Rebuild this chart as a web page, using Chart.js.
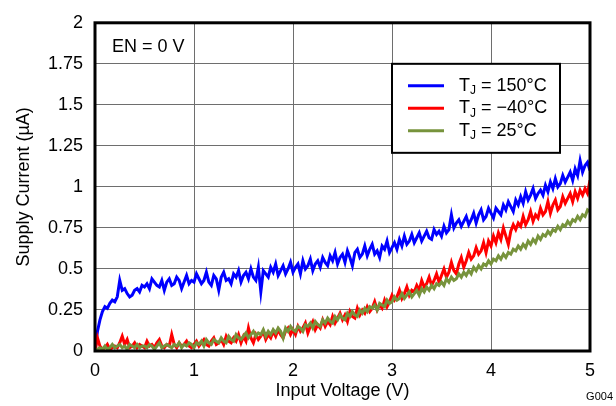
<!DOCTYPE html>
<html>
<head>
<meta charset="utf-8">
<script src="https://cdn.jsdelivr.net/npm/chart.js@4.4.0/dist/chart.umd.min.js"></script>
<style>
    html, body { margin: 0; padding: 0; background: #ffffff; }
</style>
</head>
<body>
<canvas id="myChart" width="616" height="406"></canvas>
<script>
// samples are taken every 25 mV from 0 V to 5 V
const voltageStep = 0.025

const xTicks = [0, 1, 2, 3, 4, 5]
const yTicks = [0, 0.25, 0.5, 0.75, 1, 1.25, 1.5, 1.75, 2]

const seriesNames = ['150°C', '\u221240°C', '25°C']

// supply current (uA), TJ = 150 C
const current150 =
[
    0.00, 0.12, 0.19, 0.24, 0.27, 0.26, 0.29, 0.31, 0.30, 0.33,
    0.43, 0.37, 0.38, 0.35, 0.33, 0.34, 0.37, 0.38, 0.36, 0.40,
    0.39, 0.41, 0.38, 0.44, 0.42, 0.40, 0.39, 0.43, 0.37, 0.42,
    0.44, 0.40, 0.41, 0.45, 0.43, 0.38, 0.42, 0.46, 0.41, 0.43,
    0.42, 0.47, 0.44, 0.41, 0.43, 0.48, 0.42, 0.40, 0.46, 0.44,
    0.37, 0.45, 0.48, 0.43, 0.44, 0.41, 0.47, 0.45, 0.49, 0.42,
    0.46, 0.48, 0.44, 0.50, 0.45, 0.43, 0.51, 0.36, 0.49, 0.47,
    0.45, 0.51, 0.48, 0.53, 0.46, 0.49, 0.52, 0.47, 0.50, 0.54,
    0.48, 0.51, 0.53, 0.47, 0.55, 0.50, 0.52, 0.56, 0.49, 0.53,
    0.55, 0.51, 0.57, 0.54, 0.52, 0.58, 0.55, 0.60, 0.53, 0.57,
    0.59, 0.54, 0.61, 0.57, 0.52, 0.60, 0.62, 0.57, 0.59, 0.64,
    0.58, 0.62, 0.65, 0.59, 0.61, 0.57, 0.64, 0.62, 0.67, 0.60,
    0.63, 0.66, 0.62, 0.68, 0.64, 0.70, 0.65, 0.67, 0.71, 0.66,
    0.69, 0.72, 0.67, 0.70, 0.73, 0.69, 0.68, 0.74, 0.71, 0.73,
    0.70, 0.76, 0.72, 0.74, 0.83, 0.75, 0.78, 0.80, 0.76, 0.79,
    0.82, 0.77, 0.80, 0.84, 0.78, 0.83, 0.86, 0.80, 0.82, 0.87,
    0.84, 0.81, 0.87, 0.85, 0.83, 0.89, 0.86, 0.91, 0.88, 0.85,
    0.92, 0.89, 0.94, 0.90, 0.97, 0.92, 0.95, 0.99, 0.93, 0.96,
    0.98, 0.95, 1.01, 0.97, 1.03, 0.99, 1.05, 1.00, 1.02, 1.07,
    1.03, 1.06, 1.09, 1.04, 1.11, 1.07, 1.16, 1.09, 1.13, 1.15,
    1.10
]

// supply current (uA), TJ = -40 C
const currentMinus40 =
[
    0.00, 0.08, 0.03, 0.01, 0.02, 0.04, 0.01, 0.02, 0.03, 0.02,
    0.05, 0.09, 0.04, 0.07, 0.02, 0.03, 0.05, 0.02, 0.04, 0.03,
    0.02, 0.06, 0.03, 0.04, 0.02, 0.05, 0.07, 0.03, 0.02, 0.04,
    0.03, 0.10, 0.04, 0.02, 0.05, 0.03, 0.04, 0.06, 0.03, 0.02,
    0.04, 0.06, 0.03, 0.05, 0.07, 0.04, 0.03, 0.06, 0.08, 0.04,
    0.05, 0.07, 0.04, 0.09, 0.06, 0.05, 0.08, 0.06, 0.10, 0.05,
    0.09, 0.06, 0.14, 0.08, 0.05, 0.10, 0.07, 0.09, 0.12, 0.07,
    0.10, 0.08, 0.12, 0.09, 0.13, 0.10, 0.08, 0.12, 0.14, 0.10,
    0.13, 0.10, 0.15, 0.12, 0.14, 0.17, 0.11, 0.15, 0.18, 0.13,
    0.16, 0.14, 0.19, 0.15, 0.18, 0.16, 0.21, 0.17, 0.20, 0.23,
    0.19, 0.22, 0.18, 0.24, 0.21, 0.20, 0.26, 0.22, 0.25, 0.23,
    0.27, 0.24, 0.26, 0.30, 0.25, 0.28, 0.26, 0.31, 0.27, 0.30,
    0.34, 0.31, 0.33, 0.37, 0.32, 0.35, 0.39, 0.34, 0.37, 0.36,
    0.40, 0.37, 0.43, 0.39, 0.41, 0.45, 0.40, 0.43, 0.47, 0.42,
    0.46, 0.50, 0.45, 0.48, 0.54, 0.49, 0.47, 0.53, 0.57, 0.51,
    0.55, 0.60, 0.56, 0.58, 0.63, 0.59, 0.61, 0.66, 0.60, 0.67,
    0.64, 0.70, 0.66, 0.72, 0.68, 0.75, 0.70, 0.65, 0.73, 0.77,
    0.74, 0.78, 0.76, 0.82, 0.77, 0.80, 0.85, 0.79, 0.83, 0.81,
    0.87, 0.83, 0.85, 0.91, 0.84, 0.89, 0.92, 0.86, 0.88, 0.94,
    0.90, 0.93, 0.96, 0.91, 0.97, 0.93, 0.98, 0.95, 0.99, 0.96,
    1.04
]

// supply current (uA), TJ = 25 C
const current25 =
[
    0.00, 0.01, 0.02, 0.01, 0.03, 0.01, 0.02, 0.04, 0.02, 0.03,
    0.04, 0.02, 0.03, 0.01, 0.04, 0.03, 0.02, 0.04, 0.02, 0.03,
    0.03, 0.02, 0.04, 0.03, 0.01, 0.03, 0.05, 0.02, 0.03, 0.04,
    0.03, 0.02, 0.04, 0.03, 0.05, 0.02, 0.04, 0.03, 0.05, 0.04,
    0.02, 0.05, 0.04, 0.06, 0.03, 0.07, 0.05, 0.04, 0.07, 0.06,
    0.05, 0.08, 0.06, 0.05, 0.09, 0.07, 0.06, 0.10, 0.08, 0.07,
    0.09, 0.11, 0.08, 0.10, 0.12, 0.09, 0.11, 0.10, 0.13, 0.09,
    0.12, 0.10, 0.13, 0.11, 0.14, 0.12, 0.08, 0.14, 0.12, 0.15,
    0.13, 0.12, 0.15, 0.14, 0.12, 0.16, 0.15, 0.17, 0.14, 0.18,
    0.16, 0.15, 0.19, 0.17, 0.20, 0.18, 0.17, 0.21, 0.19, 0.22,
    0.20, 0.19, 0.23, 0.21, 0.24, 0.22, 0.21, 0.25, 0.23, 0.26,
    0.24, 0.27, 0.26, 0.28, 0.25, 0.29, 0.28, 0.27, 0.31, 0.29,
    0.30, 0.33, 0.31, 0.32, 0.35, 0.32, 0.34, 0.36, 0.33, 0.35,
    0.37, 0.34, 0.38, 0.36, 0.39, 0.37, 0.40, 0.38, 0.41, 0.40,
    0.42, 0.40, 0.44, 0.42, 0.45, 0.43, 0.44, 0.47, 0.45, 0.48,
    0.46, 0.49, 0.47, 0.51, 0.49, 0.52, 0.50, 0.53, 0.52, 0.55,
    0.53, 0.56, 0.55, 0.58, 0.56, 0.59, 0.57, 0.60, 0.59, 0.62,
    0.61, 0.64, 0.62, 0.65, 0.63, 0.67, 0.65, 0.68, 0.66, 0.70,
    0.68, 0.71, 0.70, 0.73, 0.71, 0.74, 0.73, 0.76, 0.74, 0.77,
    0.76, 0.79, 0.77, 0.80, 0.79, 0.82, 0.80, 0.83, 0.82, 0.86,
    0.85
]

const toPoints = (values) =>
{
    return values.map((y, i) =>
    {
        return { x: i * voltageStep, y: y }
    });
}

const fontName = '"Liberation Sans", Arial, sans-serif'

// the white note box, the legend box and the heavy plot frame
const framePlugin =
{
    id: 'frame',
    beforeDatasetsDraw: (chart) =>
    {
        const { ctx, chartArea, scales } = chart
        const noteRight = scales.x.getPixelForValue(1) - 1
        const noteBottom = scales.y.getPixelForValue(1.75) - 1

        ctx.save()
        ctx.fillStyle = '#ffffff'
        ctx.fillRect(chartArea.left, chartArea.top, noteRight - chartArea.left, noteBottom - chartArea.top)
        ctx.fillStyle = '#000000'
        ctx.font = '18px ' + fontName
        ctx.textBaseline = 'middle'
        ctx.fillText('EN = 0 V', chartArea.left + 17, chartArea.top + 24)
        ctx.restore()
    },
    afterDatasetsDraw: (chart) =>
    {
        const { ctx, chartArea, scales } = chart

        ctx.save()

        // legend
        const boxLeft = scales.x.getPixelForValue(3)
        const boxTop = scales.y.getPixelForValue(1.75)
        ctx.fillStyle = '#ffffff'
        ctx.fillRect(boxLeft, boxTop, 168, 89)
        ctx.strokeStyle = '#000000'
        ctx.lineWidth = 2
        ctx.strokeRect(boxLeft, boxTop, 168, 89)

        chart.data.datasets.forEach((ds, i) =>
        {
            const rowY = boxTop + 22 + i * 22.5
            ctx.strokeStyle = ds.borderColor
            ctx.lineWidth = 3
            ctx.beginPath()
            ctx.moveTo(boxLeft + 16, rowY)
            ctx.lineTo(boxLeft + 52, rowY)
            ctx.stroke()

            let tx = boxLeft + 67
            ctx.fillStyle = '#000000'
            ctx.textBaseline = 'middle'
            ctx.font = '18px ' + fontName
            ctx.fillText('T', tx, rowY)
            tx += ctx.measureText('T').width
            ctx.font = '12px ' + fontName
            ctx.fillText('J', tx, rowY + 5)
            tx += ctx.measureText('J').width
            ctx.font = '18px ' + fontName
            ctx.fillText(' = ' + ds.label, tx, rowY)
        });

        // heavy frame round the plot
        ctx.strokeStyle = '#000000'
        ctx.lineWidth = 3
        ctx.strokeRect(chartArea.left, chartArea.top, chartArea.right - chartArea.left, chartArea.bottom - chartArea.top)

        // figure code
        ctx.fillStyle = '#000000'
        ctx.font = '11px ' + fontName
        ctx.textAlign = 'right'
        ctx.textBaseline = 'middle'
        ctx.fillText('G004', 613, 397)

        ctx.restore()
    }
}

const ctx = document.getElementById('myChart')

const data =
{
    datasets:
    [
        {
            label: seriesNames[0],
            data: toPoints(current150),
            borderColor: '#0000ff',
            order: 2
        },
        {
            label: seriesNames[1],
            data: toPoints(currentMinus40),
            borderColor: '#ff0000',
            order: 1
        },
        {
            label: seriesNames[2],
            data: toPoints(current25),
            borderColor: '#77933c',
            order: 0
        }
    ]
}

new Chart(ctx,
{
    type: 'line',
    data: data,
    plugins: [framePlugin],
    options:
    {
        responsive: false,
        animation: false,
        layout:
        {
            padding: { left: 0, right: 26, top: 15, bottom: 0 }
        },
        elements:
        {
            point: { radius: 0 },
            line: { borderWidth: 3, tension: 0 }
        },
        plugins:
        {
            legend: { display: false },
            tooltip: { enabled: false }
        },
        scales:
        {
            x:
            {
                type: 'linear',
                min: 0,
                max: 5,
                afterBuildTicks: (scale) =>
                {
                    scale.ticks = xTicks.map((v) => ({ value: v }))
                },
                afterFit: (scale) =>
                {
                    scale.height = 55
                },
                ticks:
                {
                    color: '#000000',
                    padding: 9,
                    maxRotation: 0,
                    font: { family: fontName, size: 18 },
                    callback: (value) => String(value)
                },
                grid:
                {
                    color: '#6e6e6e',
                    lineWidth: 1,
                    drawTicks: false
                },
                border: { display: false },
                title:
                {
                    display: true,
                    text: 'Input Voltage (V)',
                    color: '#000000',
                    padding: { top: 0, bottom: 4 },
                    font: { family: fontName, size: 18 }
                }
            },
            y:
            {
                min: 0,
                max: 2,
                afterBuildTicks: (scale) =>
                {
                    scale.ticks = yTicks.map((v) => ({ value: v }))
                },
                afterFit: (scale) =>
                {
                    scale.width = 95
                },
                ticks:
                {
                    color: '#000000',
                    padding: 12,
                    font: { family: fontName, size: 18 },
                    callback: (value) => String(value)
                },
                grid:
                {
                    color: '#6e6e6e',
                    lineWidth: 1,
                    drawTicks: false
                },
                border: { display: false },
                title:
                {
                    display: true,
                    text: 'Supply Current (\u00b5A)',
                    color: '#000000',
                    padding: { top: 13, bottom: 0 },
                    font: { family: fontName, size: 18 }
                }
            }
        }
    }
});
</script>
</body>
</html>
